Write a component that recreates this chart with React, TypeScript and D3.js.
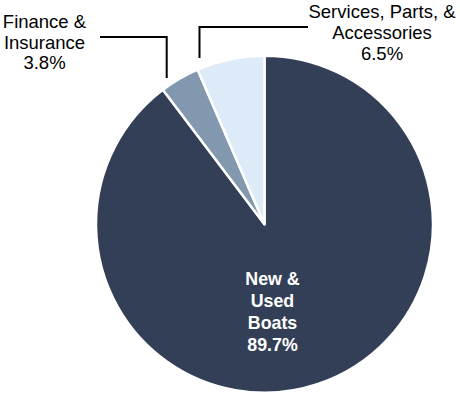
import React from "react";
import * as d3 from "d3";

const categories = ["New & Used Boats", "Finance & Insurance", "Services, Parts, & Accessories"];
const values = [89.7, 3.8, 6.5];
const colors = ["#333F56", "#8198AF", "#DDEBF8"];

const W = 460, H = 398;
const cx = 264.5, cy = 224.2, R = 168.5;

export default function App() {
  const pie = d3.pie<number>().sort(null).value((d) => d);
  const arcs = pie(values);
  const arc = d3.arc<d3.PieArcDatum<number>>().innerRadius(0).outerRadius(R);
  const font = "'Liberation Sans', Arial, sans-serif";
  const fs = 18.5;
  return (
    <svg width={W} height={H} style={{ position: "absolute", left: 0, top: 0, display: "block" }}>
      <g transform={`translate(${cx},${cy})`}>
        {arcs.map((a, i) => (
          <path key={i} d={arc(a) || ""} fill={colors[i]} stroke="#fff" strokeWidth={2.5} strokeLinejoin="round" />
        ))}
      </g>
      {/* Leader lines */}
      <polyline points="100,37 166.7,37 166.7,78" fill="none" stroke="#000" strokeWidth={2} />
      <polyline points="199.5,58 199.5,27 308,27" fill="none" stroke="#000" strokeWidth={2} />
      {/* Labels */}
      <text fontFamily={font} fontSize={fs} textAnchor="middle" fill="#000">
        <tspan x={44.5} y={28}>Finance &amp;</tspan>
        <tspan x={44.5} y={48.5}>Insurance</tspan>
        <tspan x={44.5} y={68.5}>{values[1].toFixed(1)}%</tspan>
      </text>
      <text fontFamily={font} fontSize={fs} textAnchor="middle" fill="#000">
        <tspan x={382} y={18}>Services, Parts, &amp;</tspan>
        <tspan x={382} y={39}>Accessories</tspan>
        <tspan x={382} y={60}>{values[2].toFixed(1)}%</tspan>
      </text>
      <text fontFamily={font} fontSize={17.8} fontWeight="bold" textAnchor="middle" fill="#fff">
        <tspan x={272.5} y={285}>New &amp;</tspan>
        <tspan x={272.5} y={307}>Used</tspan>
        <tspan x={272.5} y={329}>Boats</tspan>
        <tspan x={272.5} y={350.5}>{values[0].toFixed(1)}%</tspan>
      </text>
    </svg>
  );
}
